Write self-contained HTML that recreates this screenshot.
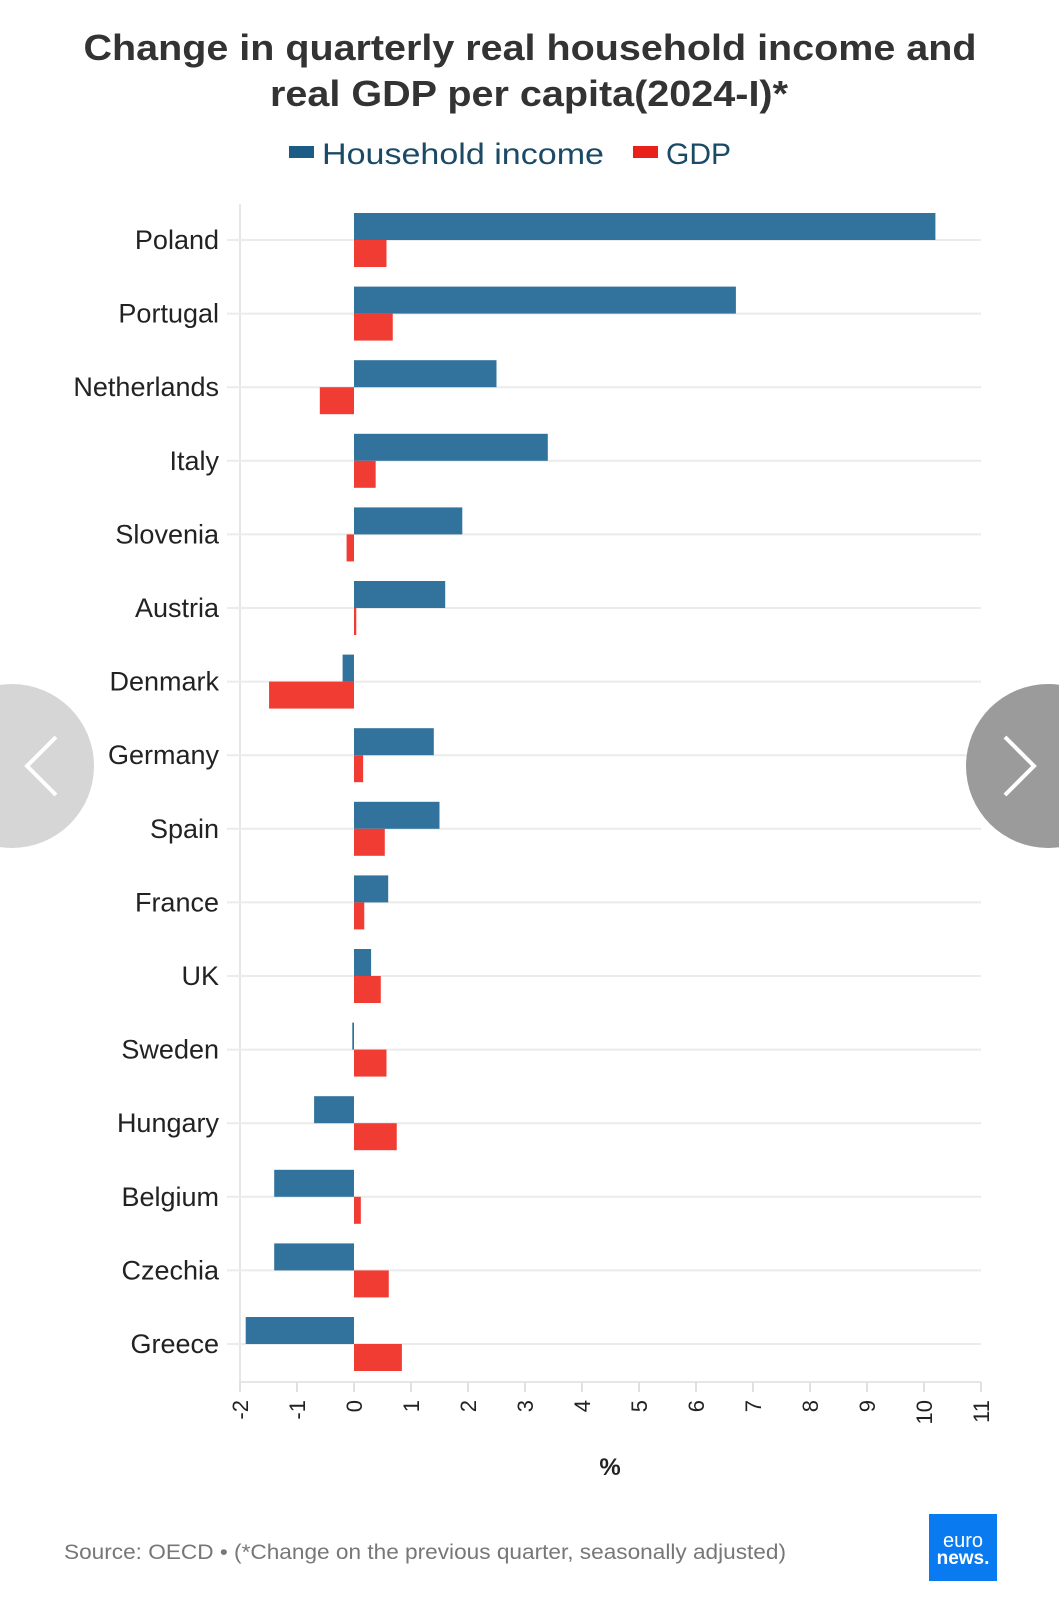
<!DOCTYPE html>
<html><head><meta charset="utf-8"><style>
html,body{margin:0;padding:0;background:#fff;}
svg{display:block;font-family:"Liberation Sans",sans-serif;}
</style></head><body>
<svg id="chart" width="1059" height="1600" viewBox="0 0 1059 1600">
<text x="530" y="60" text-anchor="middle" font-size="36" font-weight="bold" fill="#333" textLength="893" lengthAdjust="spacingAndGlyphs">Change in quarterly real household income and</text>
<text x="529" y="106" text-anchor="middle" font-size="36" font-weight="bold" fill="#333" textLength="518" lengthAdjust="spacingAndGlyphs">real GDP per capita(2024-I)*</text>
<g>
<rect x="289" y="146" width="25" height="12" fill="#1c5b86"/>
<text x="322" y="164" font-size="30" fill="#1a4a66" textLength="282" lengthAdjust="spacingAndGlyphs">Household income</text>
<rect x="633" y="146" width="25" height="12" fill="#e8211a"/>
<text x="666" y="164" font-size="30" fill="#1a4a66" textLength="65" lengthAdjust="spacingAndGlyphs">GDP</text>
</g>
<g id="grid"></g>
<g id="bars"></g>
<g id="labels"></g>
<g id="ticks"></g>
<text x="610" y="1475" text-anchor="middle" font-size="24" font-weight="bold" fill="#222">%</text>
<text x="64" y="1559" font-size="21" fill="#777" textLength="722" lengthAdjust="spacingAndGlyphs">Source: OECD • (*Change on the previous quarter, seasonally adjusted)</text>
<g>
<rect x="929" y="1514" width="68" height="67" fill="#0a7af0"/>
<text x="963" y="1547" text-anchor="middle" font-size="20" fill="#fff">euro</text>
<text x="963" y="1564" text-anchor="middle" font-size="19" font-weight="bold" fill="#fff">news.</text>
</g>
<g>
<circle cx="12" cy="766" r="82" fill="#d6d6d6"/>
<polyline points="56,737 27,766 56,795" fill="none" stroke="#fff" stroke-width="4"/>
</g>
<g>
<circle cx="1048" cy="766" r="82" fill="#9b9b9b"/>
<polyline points="1005,737 1034,766 1005,795" fill="none" stroke="#fff" stroke-width="4"/>
</g>
</svg>
<script>
const countries = ["Poland","Portugal","Netherlands","Italy","Slovenia","Austria","Denmark","Germany","Spain","France","UK","Sweden","Hungary","Belgium","Czechia","Greece"];
const householdIncome = [10.2,6.7,2.5,3.4,1.9,1.6,-0.2,1.4,1.5,0.6,0.3,-0.03,-0.7,-1.4,-1.4,-1.9];
const gdp = [0.57,0.68,-0.6,0.38,-0.13,0.04,-1.49,0.16,0.54,0.18,0.47,0.57,0.75,0.12,0.61,0.84];
const tickValues = [-2,-1,0,1,2,3,4,5,6,7,8,9,10,11];

const NS = "http://www.w3.org/2000/svg";
const xMin = -2, xMax = 11, xLeft = 240, xRight = 981;
const x = v => xLeft + (v - xMin) / (xMax - xMin) * (xRight - xLeft);
const rowTop = 240, rowStep = 73.6;
const y = i => rowTop + i * rowStep;
const barH = 27;
function mk(tag, attrs, parent){const e=document.createElementNS(NS,tag);for(const k in attrs)e.setAttribute(k,attrs[k]);parent.appendChild(e);return e;}
const grid=document.getElementById('grid'), bars=document.getElementById('bars'), labels=document.getElementById('labels'), ticks=document.getElementById('ticks');
let a = mk('line',{x1:xLeft,x2:xLeft,y1:204,y2:1382,stroke:'#e6e6e6','stroke-width':2},grid);


let b = mk('line',{x1:xLeft,x2:xRight,y1:1382,y2:1382,stroke:'#e6e6e6','stroke-width':2},grid);


countries.forEach((c,i)=>{
  const gy=y(i);
  const g=mk('line',{x1:227,x2:xRight,y1:gy,y2:gy,stroke:'#ebebeb','stroke-width':2},grid);
  
  
  const t=mk('text',{x:219,y:gy+9,'text-anchor':'end','font-size':27,fill:'#222'},labels);
  t.textContent=c;
  
  
  const hv=householdIncome[i];
  const r1=mk('rect',{x:Math.min(x(0),x(hv)),y:gy-barH,width:Math.max(Math.abs(x(hv)-x(0)),1),height:barH,fill:'#31739c'},bars);
  
  
  const gv=gdp[i];
  const r2=mk('rect',{x:Math.min(x(0),x(gv)),y:gy,width:Math.max(Math.abs(x(gv)-x(0)),1),height:barH,fill:'#f03c33'},bars);
  
  
});
tickValues.forEach(v=>{
  const tx=x(v);
  const l=mk('line',{x1:tx,x2:tx,y1:1382,y2:1392,stroke:'#e0e0e0','stroke-width':2},ticks);
  
  
  const t=mk('text',{x:0,y:0,'text-anchor':'end','font-size':22,fill:'#222',transform:`translate(${tx+8},1400) rotate(-90)`},ticks);
  t.textContent=String(v);
  
  
});
</script>
</body></html>
